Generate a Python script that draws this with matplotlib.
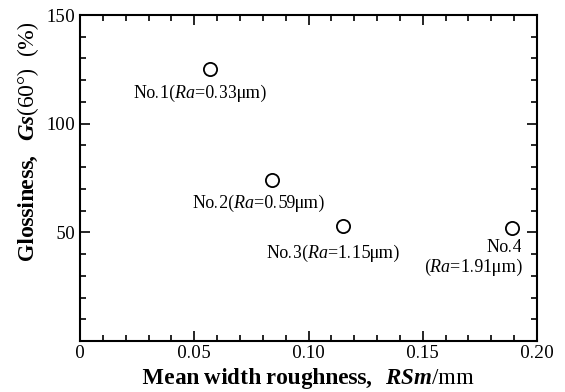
import matplotlib
matplotlib.use("Agg")
import matplotlib.pyplot as plt
from matplotlib.ticker import MultipleLocator

plt.rcParams["font.family"] = ["Liberation Serif", "DejaVu Serif"]
plt.rcParams["mathtext.fontset"] = "custom"
plt.rcParams["mathtext.rm"] = "Liberation Serif"
plt.rcParams["mathtext.it"] = "Liberation Serif:italic"
plt.rcParams["mathtext.bf"] = "Liberation Serif:bold"
plt.rcParams["mathtext.bfit"] = "Liberation Serif:italic:bold"
plt.rcParams["text.hinting_factor"] = 1

# mean width roughness RSm (mm) vs glossiness Gs(60) (%)
rsm = [0.057, 0.084, 0.115, 0.189]
gloss = [125, 74, 53, 52]
labels = ["No.1($Ra$=0.33μm)", "No.2($Ra$=0.59μm)",
          "No.3($Ra$=1.15μm)", "No.4\n($Ra$=1.91μm)"]

x_ticks = [0, 0.05, 0.10, 0.15, 0.20]
x_ticklabels = ["0", "0.05", "0.10", "0.15", "0.20"]
y_ticks = [50, 100, 150]

# label placement (offset in pixels, alignment)
label_pos = [((-10, -14), "center"), ((-13, -13), "center"),
             ((-10, -17), "center"), ((11, -11), "right")]

fig = plt.figure(figsize=(5.65, 3.92), dpi=100)
ax = fig.add_axes([80 / 565, 51 / 392, 457 / 565, 326 / 392])

ax.plot(rsm, gloss, "o", ms=9.5, mfc="white", mec="black", mew=1.3,
        ls="none", zorder=3)

for x, y, txt, (off, ha) in zip(rsm, gloss, labels, label_pos):
    ax.annotate(txt, (x, y), xytext=off, textcoords="offset pixels",
                ha=ha, va="top", fontsize=13, multialignment=ha,
                linespacing=1.05)

ax.set_xlim(0, 0.20)
ax.set_ylim(0, 150)
ax.set_xticks(x_ticks)
ax.set_xticklabels(x_ticklabels)
ax.set_yticks(y_ticks)
ax.xaxis.set_minor_locator(MultipleLocator(0.01))
ax.yaxis.set_minor_locator(MultipleLocator(10))

ax.tick_params(which="both", direction="in", top=True, right=True,
               labelsize=13.5, width=1.2, pad=3)
ax.tick_params(which="major", length=7)
ax.tick_params(which="minor", length=4.3)
for s in ax.spines.values():
    s.set_linewidth(1.5)

ax.set_xlabel(r"$\mathbf{Mean\ width\ roughness,}\ \ \mathbfit{RSm}\mathrm{/mm}$",
              fontsize=16.5, labelpad=3)
ax.set_ylabel(r"$\mathbf{Glossiness,}\ \ \mathbfit{Gs}\mathrm{(60°)\ \ (\%)}$",
              fontsize=16.5)
ax.yaxis.set_label_coords(-0.085, 0.61)

fig.savefig("out.png", dpi=100)
